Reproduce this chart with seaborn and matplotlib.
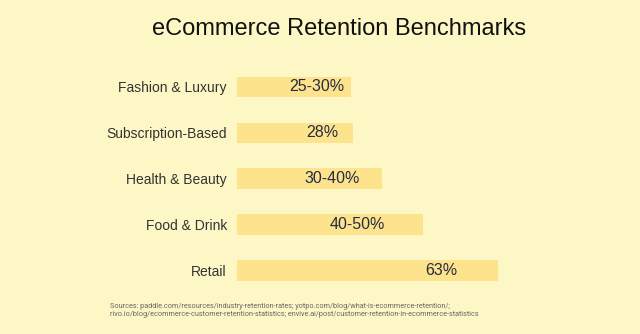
import matplotlib
matplotlib.use("Agg")
import matplotlib.pyplot as plt
import seaborn as sns
import pandas as pd

# Data
categories = ["Fashion & Luxury", "Subscription-Based", "Health & Beauty", "Food & Drink", "Retail"]
values = [27.5, 28, 35, 45, 63]
value_labels = ["25-30%", "28%", "30-40%", "40-50%", "63%"]
label_x = [19.2, 20.5, 22.9, 29.0, 49.4]  # label anchor positions (data units)
title = "eCommerce Retention Benchmarks"
sources = [
    "Sources: paddle.com/resources/industry-retention-rates; yotpo.com/blog/what-is-ecommerce-retention/;",
    "rivo.io/blog/ecommerce-customer-retention-statistics; envive.ai/post/customer-retention-in-ecommerce-statistics",
]

BG = "#fdf7c6"
BAR = "#fde38b"

sns.set_theme(style="white")
plt.rcParams["font.family"] = ["Liberation Sans", "DejaVu Sans"]

fig = plt.figure(figsize=(6.4, 3.34), dpi=100, facecolor=BG)
ax = fig.add_axes([237 / 640, 0.1216, 260.7 / 640, 0.6874])
ax.set_facecolor(BG)

df = pd.DataFrame({"category": categories, "value": values})
sns.barplot(data=df, y="category", x="value", orient="h", color=BAR,
            width=0.44, saturation=1, linewidth=0, edgecolor=BAR, ax=ax)

ax.set_xlim(0, 63)
ax.set_ylim(4.5, -0.5)
for s in ax.spines.values():
    s.set_visible(False)
ax.set_xticks([])
ax.set_xlabel("")
ax.set_ylabel("")
ax.tick_params(axis="y", length=0, pad=7.2, labelsize=10, labelcolor="#333333")

for i, (lx, t) in enumerate(zip(label_x, value_labels)):
    ax.text(lx, i, t, ha="center", va="center", fontsize=11.5, color="#262b45")

fig.text(339 / 640, 1 - 29 / 334, title, ha="center", va="center", fontsize=17, color="#111111")
fig.text(110 / 640, 1 - 306 / 334, sources[0], ha="left", va="center", fontsize=5.2,
         color="#666666", family=["Roboto", "DejaVu Sans"])
fig.text(110 / 640, 1 - 314.7 / 334, sources[1], ha="left", va="center", fontsize=5.2,
         color="#666666", family=["Roboto", "DejaVu Sans"])

fig.savefig("out.png", dpi=100, facecolor=BG)
